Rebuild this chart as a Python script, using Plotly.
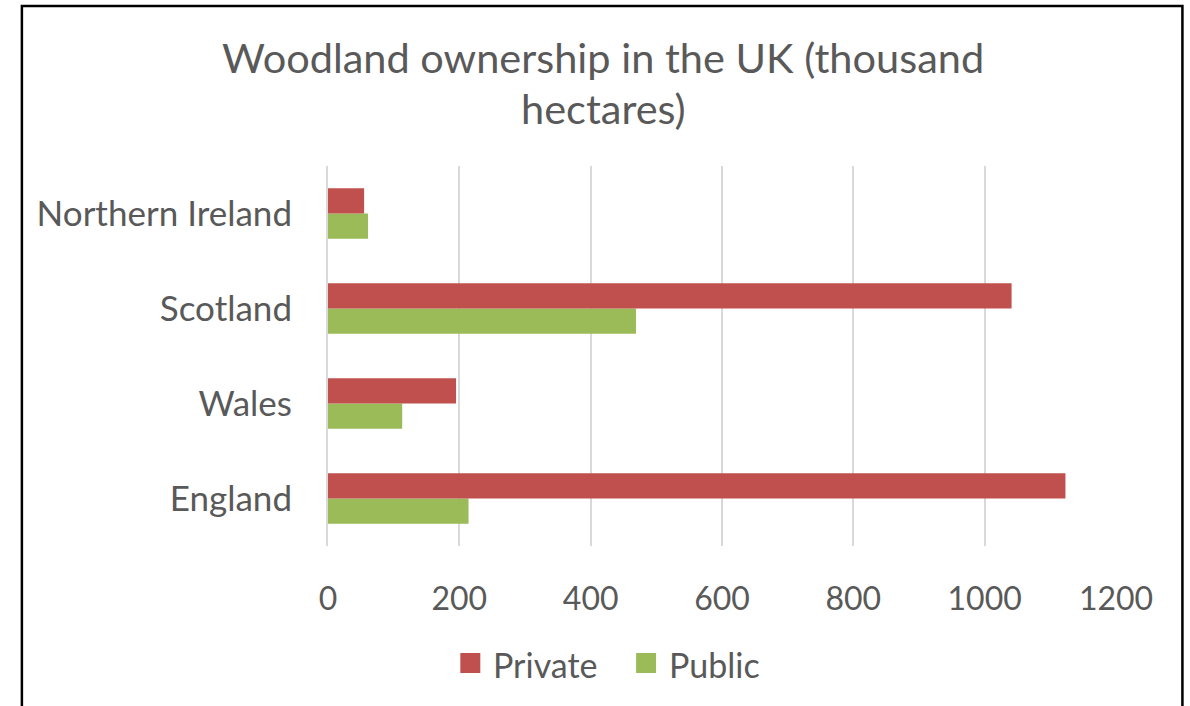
import plotly.graph_objects as go

categories = ["England", "Wales", "Scotland", "Northern Ireland"]
private = [1123, 195, 1041, 55]
public = [214, 113, 469, 61]
x_ticks = [0, 200, 400, 600, 800, 1000, 1200]
title_lines = ["Woodland ownership in the UK (thousand", "hectares)"]
series_names = ["Private", "Public"]

RED = "#C0504D"
GREEN = "#9BBB59"
TEXT = "#595959"
FONT = "Lato"

W, H = 1190, 706
L, R, T, B = 327.5, 73.5, 166, 160

fig = go.Figure()
fig.add_trace(go.Bar(y=categories, x=public, name=series_names[1], orientation="h",
                     marker=dict(color=GREEN, line=dict(width=0)), showlegend=False))
fig.add_trace(go.Bar(y=categories, x=private, name=series_names[0], orientation="h",
                     marker=dict(color=RED, line=dict(width=0)), showlegend=False))

pw = W - L - R
ph = H - T - B
def px2x(p):
    return (p - L) / pw
def py2y(p):
    return (H - B - p) / ph

annotations = []
for txt, yc in zip(title_lines, [57, 108]):
    annotations.append(dict(text=txt, xref="paper", yref="paper",
                            x=px2x(603), y=py2y(yc), xanchor="center", yanchor="middle",
                            showarrow=False, font=dict(family=FONT, size=41.5, color=TEXT)))

# custom legend (20px swatches like the reference)
shapes = [dict(type="rect", xref="paper", yref="paper",
               x0=px2x(21), x1=px2x(1183), y0=py2y(712), y1=py2y(6),
               line=dict(color="black", width=2.5), fillcolor="rgba(0,0,0,0)",
               layer="above")]
for name, col, sx in zip(series_names, [RED, GREEN], [460, 636]):
    shapes.append(dict(type="rect", xref="paper", yref="paper",
                       x0=px2x(sx), x1=px2x(sx + 20), y0=py2y(673), y1=py2y(653),
                       line=dict(width=0), fillcolor=col))
    annotations.append(dict(text=name, xref="paper", yref="paper",
                            x=px2x(sx + 31), y=py2y(664), xanchor="left", yanchor="middle",
                            showarrow=False, font=dict(family=FONT, size=34, color=TEXT)))

fig.update_layout(
    width=W, height=H,
    margin=dict(l=L, r=R, t=T, b=B, pad=0),
    paper_bgcolor="white", plot_bgcolor="white",
    barmode="group", bargap=0.47, bargroupgap=0,
    font=dict(family=FONT, color=TEXT, size=32),
    showlegend=False,
    xaxis=dict(range=[0, 1200], tickvals=x_ticks, showgrid=True,
               gridcolor="#D9D9D9", gridwidth=2, zeroline=False,
               showline=False, ticks="outside", ticklen=25, tickcolor="rgba(0,0,0,0)",
               tickfont=dict(family=FONT, size=32, color=TEXT), fixedrange=True),
    yaxis=dict(categoryorder="array", categoryarray=categories,
               showgrid=False, zeroline=False, showline=True,
               linecolor="#D9D9D9", linewidth=2,
               ticks="outside", ticklen=27, tickcolor="rgba(0,0,0,0)",
               tickfont=dict(family=FONT, size=35, color=TEXT)),
    shapes=shapes,
    annotations=annotations,
)

fig.write_html("out.html")
